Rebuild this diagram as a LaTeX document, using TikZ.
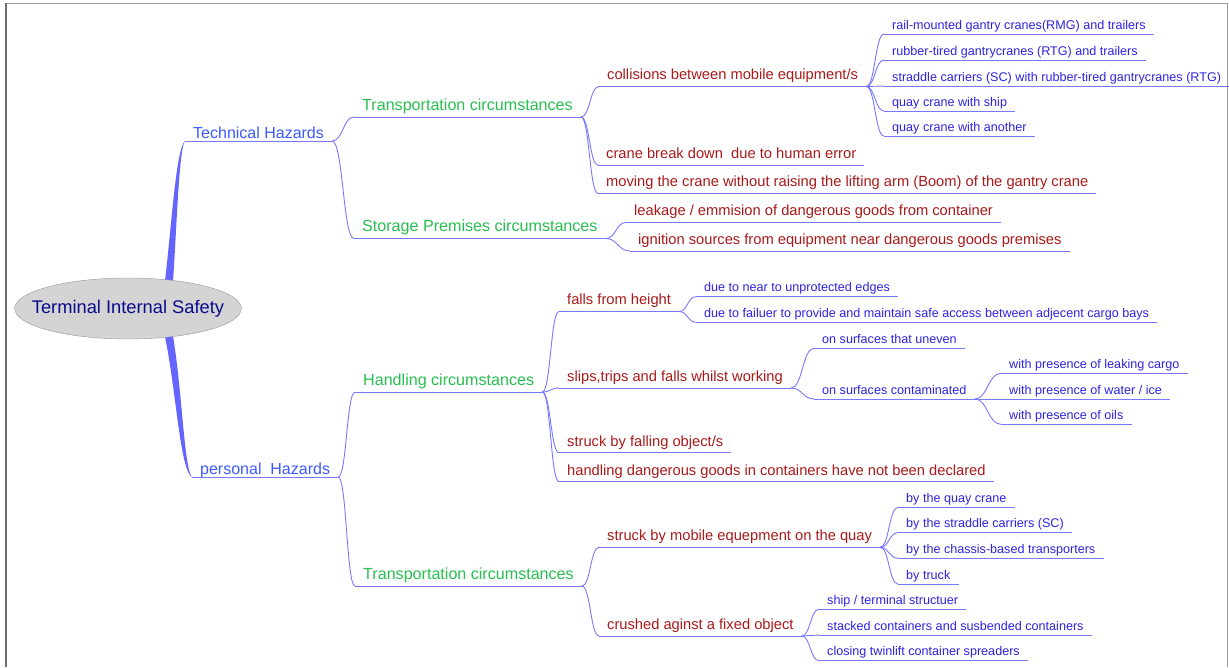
\documentclass[tikz,border=0pt]{standalone}
\usepackage{fontspec}
\setmainfont{Liberation Sans}
\usetikzlibrary{calc,shapes.geometric}

\definecolor{rootnavy}{RGB}{10,10,140}
\definecolor{rootgray}{RGB}{212,212,212}
\definecolor{rootedge}{RGB}{150,150,150}
\definecolor{hazblue}{RGB}{60,90,255}
\definecolor{circgreen}{RGB}{40,190,80}
\definecolor{causered}{RGB}{170,25,25}
\definecolor{itemblue}{RGB}{45,35,225}
\definecolor{linkblue}{RGB}{120,120,255}
\definecolor{rootlink}{RGB}{100,100,255}
\definecolor{framegray}{RGB}{110,110,110}

\tikzset{
  topic/.style={anchor=south west, inner xsep=8pt, inner ysep=0pt},
  lvone/.style={topic, font=\fontsize{16}{18}\selectfont, text=hazblue, text depth=2pt},
  lvtwo/.style={topic, font=\fontsize{16.1}{18}\selectfont, text=circgreen, text depth=6.5pt},
  lvthree/.style={topic, font=\fontsize{14.7}{17}\selectfont, text=causered, text depth=6.5pt},
  lvfour/.style={topic, font=\fontsize{12.6}{14}\selectfont, text=itemblue, text depth=4.7pt},
  link/.style={draw=linkblue, line width=0.9pt,
    to path={.. controls ($(\tikztostart)!.5!(\tikztotarget |- \tikztostart)$)
      and ($(\tikztotarget)!.5!(\tikztostart |- \tikztotarget)$) .. (\tikztotarget)}},
}

\begin{document}
\begin{tikzpicture}[x=1pt,y=-1pt]
  \useasboundingbox (0,0) rectangle (1229,667);
  % frame
  \draw[framegray!70, line width=0.8pt] (6,3) -- (1227,3) -- (1227,667);
  \draw[framegray, line width=1.3pt] (6,3) -- (6,667);

  \node[ellipse, fill=rootgray, draw=rootedge, text=rootnavy,
    font=\fontsize{18.3}{20}\selectfont, inner xsep=-16pt, inner ysep=0pt,
    minimum height=61pt] (root) at (128,308.5) {Terminal Internal Safety};

  \node[lvone] (th) at (185,141) {Technical Hazards};
  \node[lvone] (ph) at (192,477) {personal\ \ Hazards};

  \node[lvtwo] (tc1) at (354,117) {Transportation circumstances};
  \node[lvtwo] (sp) at (354,238.5) {Storage Premises circumstances};
  \node[lvtwo] (hc) at (355,392) {Handling circumstances};
  \node[lvtwo] (tc2) at (355,586) {Transportation circumstances};

  \node[lvthree] (col) at (599,86.5) {collisions between mobile equipment/s};
  \node[lvthree] (cbd) at (598,165) {crane break down\ \ due to human error};
  \node[lvthree] (mov) at (598,193.5) {moving the crane without raising the lifting arm (Boom) of the gantry crane};
  \node[lvthree] (leak) at (626,222.5) {leakage / emmision of dangerous goods from container};
  \node[lvthree] (ign) at (630,251) {ignition sources from equipment near dangerous goods premises};

  \node[lvfour] (r1) at (884,34) {rail-mounted gantry cranes(RMG) and trailers};
  \node[lvfour] (r2) at (884,60) {rubber-tired gantrycranes (RTG) and trailers};
  \node[lvfour] (r3) at (884,86) {straddle carriers (SC) with rubber-tired gantrycranes (RTG)};
  \node[lvfour] (r4) at (884,111) {quay crane with ship};
  \node[lvfour] (r5) at (884,136) {quay crane with another};

  \node[lvthree] (fh) at (559,311.5) {falls from height};
  \node[lvthree] (st) at (559,388) {slips,trips and falls whilst working};
  \node[lvthree] (sf) at (559,452.7) {struck by falling object/s};
  \node[lvthree] (hd) at (559,481.7) {handling dangerous goods in containers have not been declared};

  \node[lvfour] (nu) at (696,296.7) {due to near to unprotected edges};
  \node[lvfour] (nf) at (696,322.3) {due to failuer to provide and maintain safe access between adjecent cargo bays};
  \node[lvfour] (su) at (814,348.3) {on surfaces that uneven};
  \node[lvfour] (sc) at (814,399) {on surfaces contaminated};
  \node[lvfour] (pl) at (1001,373.3) {with presence of leaking cargo};
  \node[lvfour] (pw) at (1001,399) {with presence of water / ice};
  \node[lvfour] (po) at (1001,424.3) {with presence of oils};

  \node[lvthree] (sm) at (599,547.3) {struck by mobile equepment on the quay};
  \node[lvthree] (cr) at (599,636) {crushed aginst a fixed object};

  \node[lvfour] (q1) at (898,507.3) {by the quay crane};
  \node[lvfour] (q2) at (898,532.7) {by the straddle carriers (SC)};
  \node[lvfour] (q3) at (898,558.3) {by the chassis-based transporters};
  \node[lvfour] (q4) at (898,584) {by truck};
  \node[lvfour] (f1) at (819,609.3) {ship / terminal structuer};
  \node[lvfour] (f2) at (819,635) {stacked containers and susbended containers};
  \node[lvfour] (f3) at (819,660.7) {closing twinlift container spreaders};

  % tapered main branches
  \fill[rootlink] (root.38) .. controls +(7,-60) and +(-9,9) .. (th.south west)
    .. controls +(-6,9) and +(4,-60) .. (root.32) -- cycle;
  \fill[rootlink] (root.-38) .. controls +(11,53) and +(-12,-7) .. (ph.south west)
    .. controls +(-8,-9) and +(9,53) .. (root.-32) -- cycle;

  % underlines
  \foreach \n in {th,ph,tc1,sp,hc,tc2,col,cbd,mov,leak,ign,r1,r2,r3,r4,r5,
      fh,st,sf,hd,nu,nf,su,sc,pl,pw,po,sm,cr,q1,q2,q3,q4,f1,f2,f3}
    \draw[link] (\n.south west) -- (\n.south east);

  % branches
  \draw[link] (th.south east) to (tc1.south west);
  \draw[link] (th.south east) to (sp.south west);
  \draw[link] (ph.south east) to (hc.south west);
  \draw[link] (ph.south east) to (tc2.south west);
  \foreach \c in {col,cbd,mov} \draw[link] (tc1.south east) to (\c.south west);
  \foreach \c in {leak,ign} \draw[link] (sp.south east) to (\c.south west);
  \foreach \c in {r1,r2,r3,r4,r5} \draw[link] (col.south east) to (\c.south west);
  \foreach \c in {fh,st,sf,hd} \draw[link] (hc.south east) to (\c.south west);
  \foreach \c in {nu,nf} \draw[link] (fh.south east) to (\c.south west);
  \foreach \c in {su,sc} \draw[link] (st.south east) to (\c.south west);
  \foreach \c in {pl,pw,po} \draw[link] (sc.south east) to (\c.south west);
  \foreach \c in {sm,cr} \draw[link] (tc2.south east) to (\c.south west);
  \foreach \c in {q1,q2,q3,q4} \draw[link] (sm.south east) to (\c.south west);
  \foreach \c in {f1,f2,f3} \draw[link] (cr.south east) to (\c.south west);
\end{tikzpicture}
\end{document}
